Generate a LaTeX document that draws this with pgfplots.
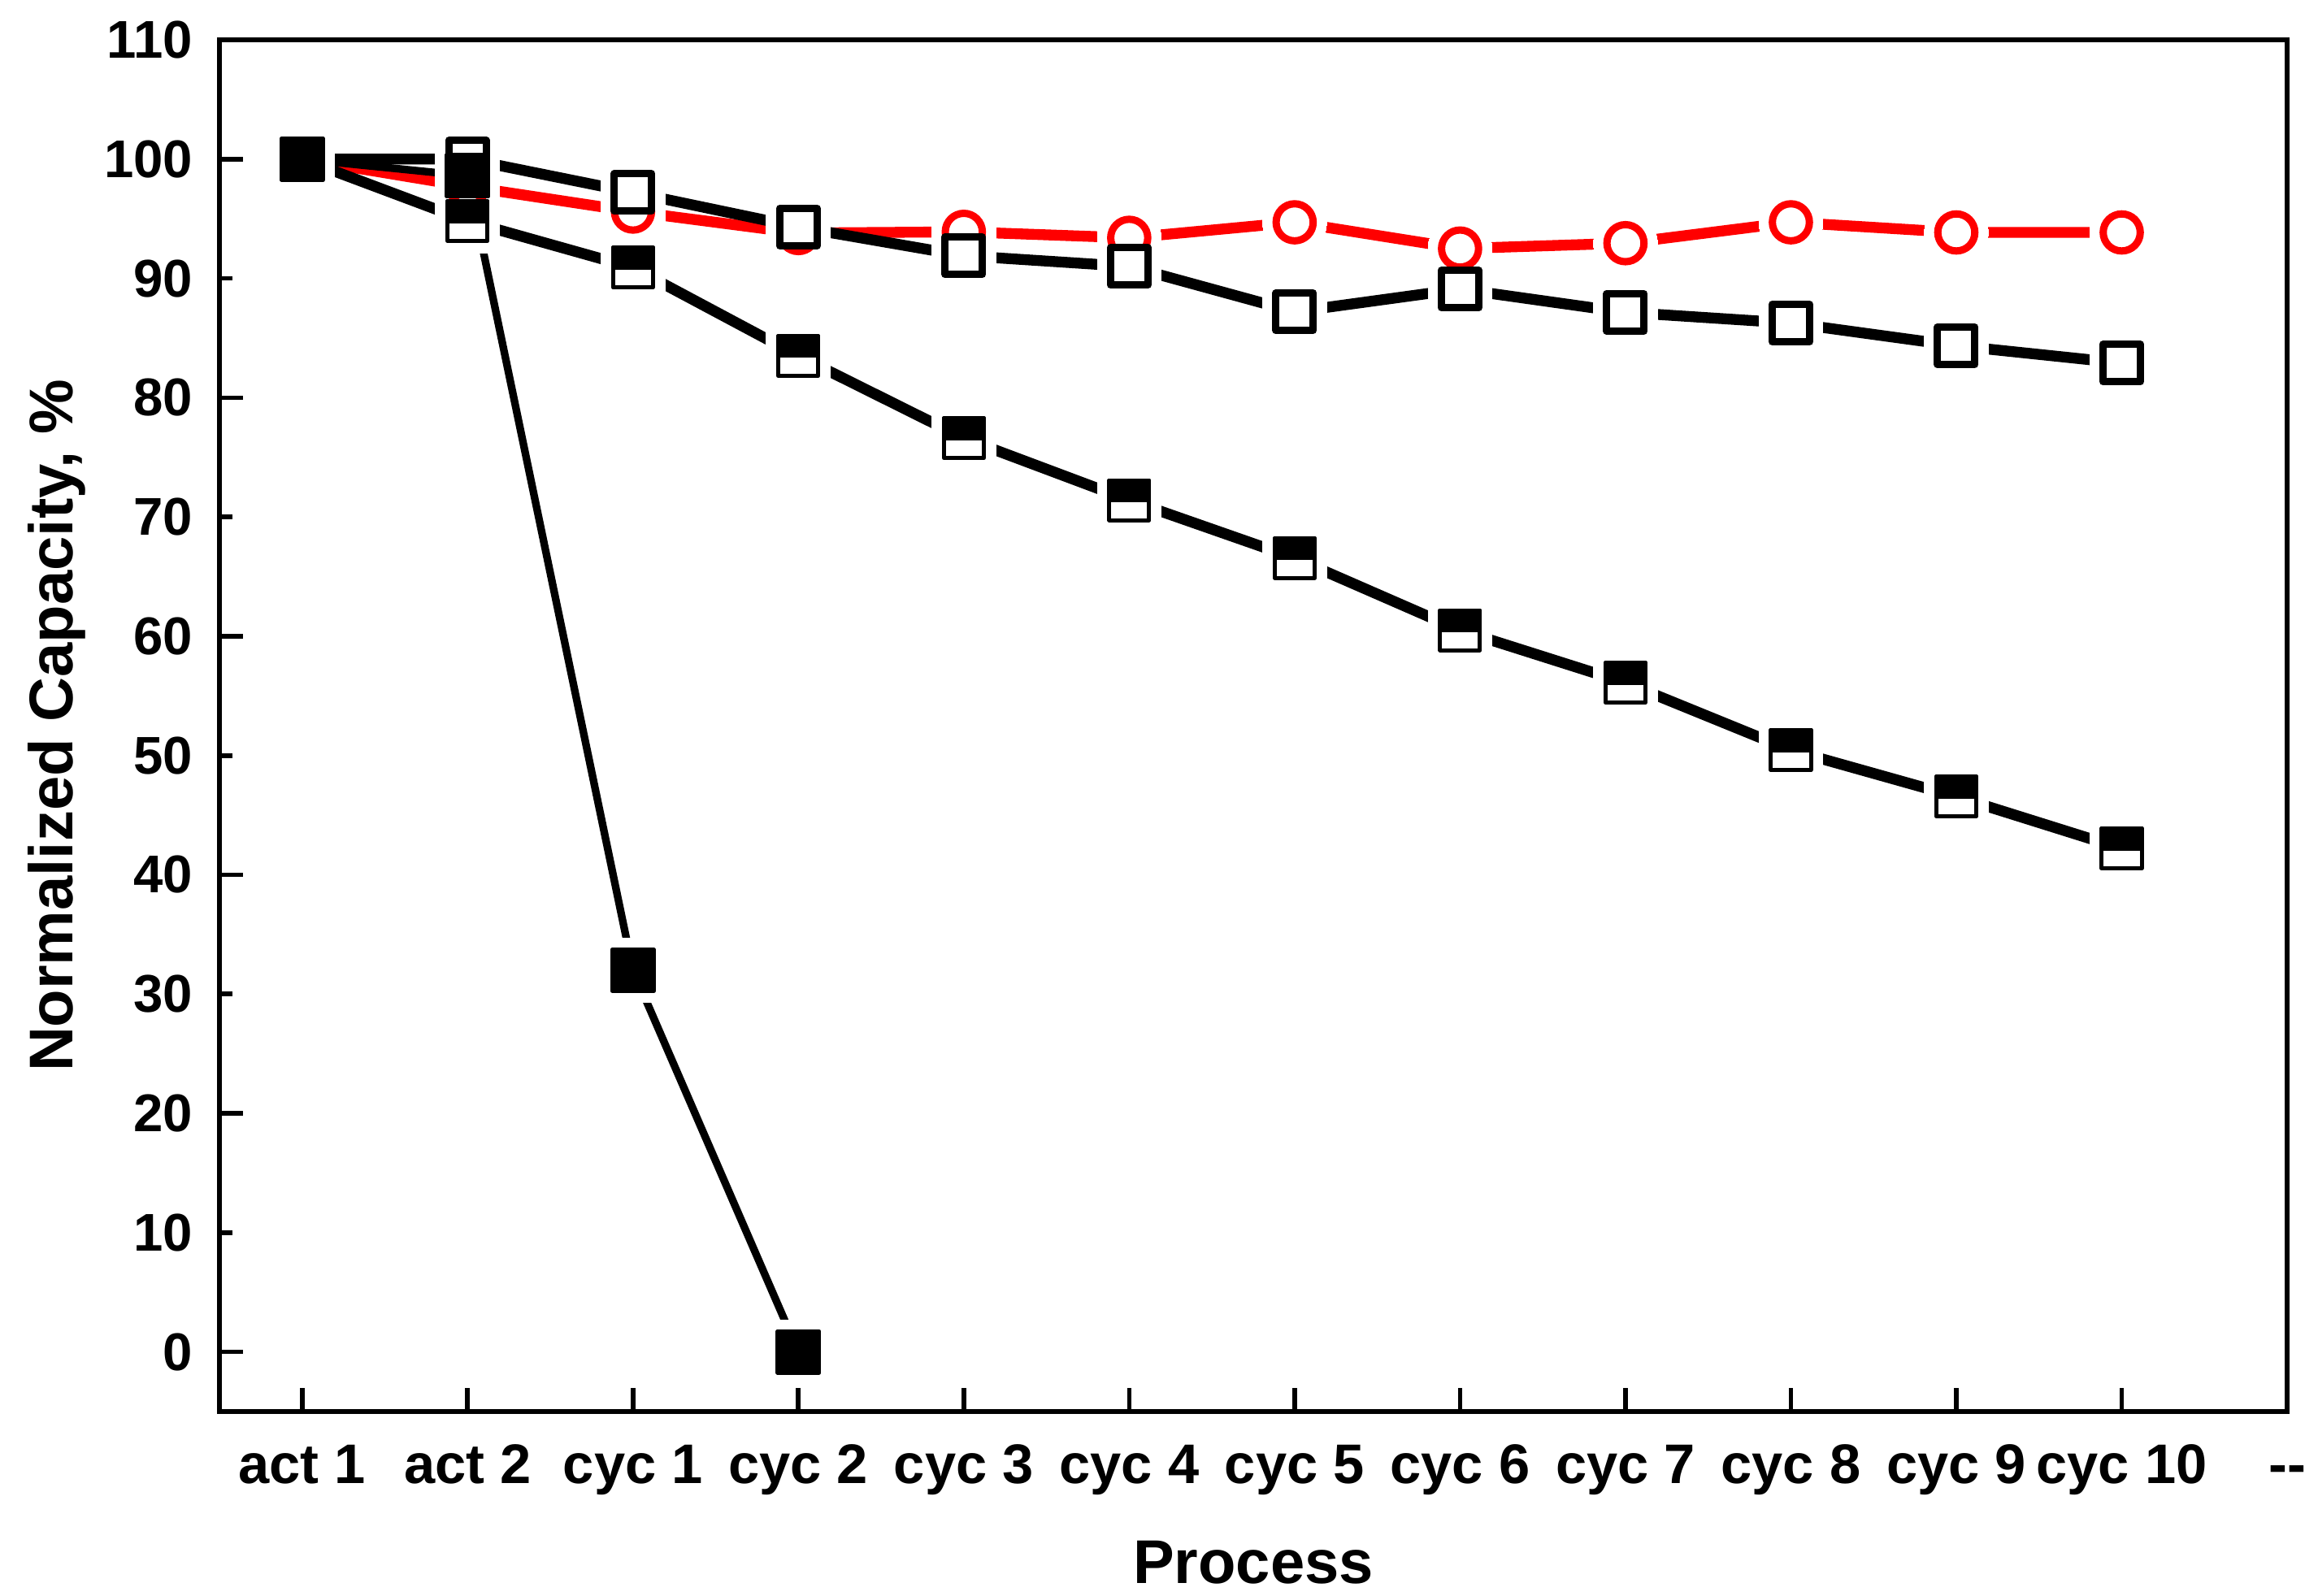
\documentclass[border=0pt]{standalone}
\usepackage{pgfplots}
\pgfplotsset{compat=1.18}
\usepackage{pgfplotstable}
\usepackage{fontspec}
\setmainfont{Liberation Sans}

% half filled square: white body, black top half
\pgfdeclareplotmark{halfsquare}{%
  \pgfpathrectangle{\pgfqpoint{-\pgfplotmarksize}{-\pgfplotmarksize}}{\pgfqpoint{2\pgfplotmarksize}{2\pgfplotmarksize}}%
  \pgfsetfillcolor{white}%
  \pgfusepathqfillstroke
  \pgfpathrectangle{\pgfqpoint{-\pgfplotmarksize}{0pt}}{\pgfqpoint{2\pgfplotmarksize}{\pgfplotmarksize}}%
  \pgfsetfillcolor{black}%
  \pgfusepathqfillstroke
}

\pgfplotstableread{
x y
1 100
2 97.7
3 95.6
4 93.8
5 93.9
6 93.4
7 94.7
8 92.5
9 92.95
10 94.7
11 93.85
12 93.85
}\redcirc

\pgfplotstableread{
x y
1 100
2 100
3 97.2
4 94.3
5 91.9
6 91.0
7 87.2
8 89.1
9 87.15
10 86.25
11 84.35
12 82.9
}\opensq

\pgfplotstableread{
x y
1 100
2 94.8
3 90.9
4 83.5
5 76.6
6 71.4
7 66.55
8 60.5
9 56.1
10 50.45
11 46.55
12 42.2
}\halfsq

\pgfplotstableread{
x y
1 100
2 98.6
3 32
4 0
}\fullsq

% white patch drawn over a series' own line so it stops short of each point
\pgfplotsset{
  halo/.style={only marks, mark=#1, mark size=5.9pt,
    mark options={draw=white, fill=white, line width=0pt}},
}

\begin{document}
\begin{tikzpicture}
\useasboundingbox (-40.5pt,-33.9pt) rectangle (387.3pt,260.55pt);
\begin{axis}[
  scale only axis,
  width=381.6pt, height=253.2pt,
  xmin=0.5, xmax=13, ymin=-5, ymax=110,
  axis line style={line width=0.85pt},
  tick style={black, line width=0.85pt},
  tick align=inside,
  xtick pos=bottom, ytick pos=left,
  major tick length=4.4pt,
  xtick={1,...,13},
  xticklabels={act 1,act 2,cyc 1,cyc 2,cyc 3,cyc 4,cyc 5,cyc 6,cyc 7,cyc 8,cyc 9,cyc 10,{-{}-}},
  ytick={0,20,...,100},
  extra y ticks={10,30,...,110},
  extra y tick style={major tick length=2.4pt},
  /pgf/number format/assume math mode=true,
  ticklabel style={font=\bfseries\fontsize{9.8}{11}\selectfont},
  xticklabel style={anchor=base, yshift=-13.2pt, font=\bfseries\fontsize{10.3}{12}\selectfont},
  yticklabel style={anchor=east, inner xsep=0pt, xshift=-4.7pt},
  label style={font=\bfseries\fontsize{11.4}{13}\selectfont},
  xlabel={Process},
  ylabel={Normalized Capacity, \%},
  xlabel style={at={(axis description cs:0.5,-0.125)}, anchor=base},
  ylabel style={at={(axis description cs:-0.0708,0.5)}, anchor=base},
]
% lines, each cut back around its own points
\addplot[red, line width=2pt, line cap=round] table {\redcirc};
\addplot[halo=*] table {\redcirc};
\addplot[black, line width=2pt, line cap=round] table {\opensq};
\addplot[halo=square*] table {\opensq};
\addplot[black, line width=2pt, line cap=round] table {\halfsq};
\addplot[halo=square*] table {\halfsq};
\addplot[black, line width=1.4pt, line cap=round] table {\fullsq};
\addplot[halo=square*] table {\fullsq};

% markers
\addplot[only marks, mark=*, mark size=3.42pt,
  mark options={draw=red, fill=white, line width=1.35pt}] table {\redcirc};
\addplot[only marks, mark=square*, mark size=3.45pt,
  mark options={draw=black, fill=white, line width=1.35pt, line join=round}] table {\opensq};
\addplot[only marks, mark=halfsquare, mark size=3.68pt,
  mark options={draw=black, line width=0.75pt, line join=round}] table {\halfsq};
\addplot[only marks, mark=square*, mark size=3.83pt,
  mark options={draw=black, fill=black, line width=0.75pt, line join=round}] table {\fullsq};
\end{axis}
\end{tikzpicture}
\end{document}
